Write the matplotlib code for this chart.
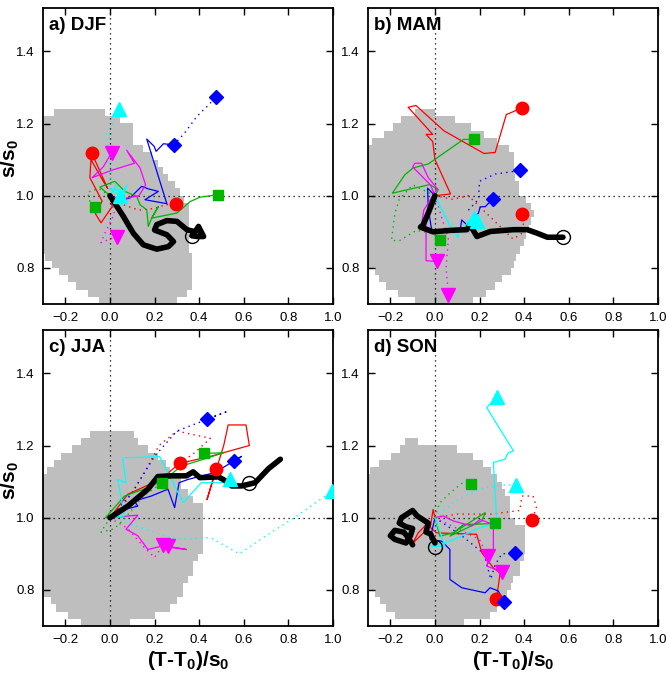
import numpy as np
import matplotlib.pyplot as plt

plt.rcParams['font.family'] = ['Liberation Sans', 'DejaVu Sans']
plt.rcParams['mathtext.fontset'] = 'custom'
plt.rcParams['mathtext.rm'] = 'Liberation Sans'
plt.rcParams['mathtext.bf'] = 'Liberation Sans:bold'

seasons = ['a) DJF', 'b) MAM', 'c) JJA', 'd) SON']
xticks = [-0.2, 0.0, 0.2, 0.4, 0.6, 0.8, 1.0]
yticks = [0.8, 1.0, 1.2, 1.4]

# grey area, one row per s/s0 level: left and right edge
blob_y = [0.71, 0.73, 0.75, 0.77, 0.79, 0.81, 0.83, 0.85, 0.87, 0.89, 0.91, 0.93, 0.95, 0.97,
          0.99, 1.01, 1.03, 1.05, 1.07, 1.09, 1.11, 1.13, 1.15, 1.17, 1.19, 1.21, 1.23]
djf_left = [-0.05, -0.10, -0.15, -0.19, -0.23, -0.26, -0.29] + [-0.31] * 19 + [-0.25]
djf_right = [0.30, 0.345, 0.37, 0.37, 0.37, 0.37, 0.37, 0.355, 0.355, 0.355, 0.355, 0.355, 0.355, 0.355,
             0.332, 0.314, 0.29, 0.262, 0.24, 0.217, 0.19, 0.15, 0.105, 0.105, 0.105, 0.045, -0.022]
mam_left = [-0.09, -0.165, -0.22, -0.25, -0.27] + [-0.31] * 17 + [-0.28, -0.23, -0.19, -0.15, -0.09]
mam_right = [0.17, 0.23, 0.27, 0.30, 0.34, 0.353, 0.365, 0.38, 0.398, 0.41, 0.42, 0.43, 0.444, 0.43,
             0.406, 0.376, 0.376, 0.36, 0.353, 0.353, 0.353, 0.331, 0.28, 0.22, 0.16, 0.09, 0.0]
jja_left = [-0.13, -0.19, -0.24, -0.266] + [-0.31] * 17 + [-0.28, -0.25, -0.22, -0.168, -0.13, -0.089]
jja_right = [0.09, 0.20, 0.27, 0.30, 0.328, 0.328, 0.35, 0.373, 0.373, 0.395, 0.418, 0.418, 0.418, 0.418,
             0.418, 0.418, 0.418, 0.373, 0.35, 0.32, 0.32, 0.27, 0.25, 0.215, 0.17, 0.125, 0.107]
son_left = [0.0, -0.18, -0.22, -0.247, -0.27] + [-0.31] * 16 + [-0.29, -0.25, -0.195, -0.157, -0.135, 0.0]
son_right = [0.13, 0.247, 0.28, 0.322, 0.322, 0.34, 0.352, 0.382, 0.382, 0.40, 0.404, 0.404, 0.404, 0.404,
             0.36, 0.337, 0.337, 0.337, 0.314, 0.30, 0.277, 0.25, 0.217, 0.17, 0.10, -0.075, 0.0]

# DJF trajectories (x, y)
djf_red = [(0, 1), (0.01, 0.97), (-0.04, 0.925), (-0.065, 0.95), (-0.035, 0.985), (-0.09, 1.05),
           (-0.085, 1.1), (-0.03, 1.04), (-0.01, 1.02), (-0.082, 1.119)]
djf_red_dot = [(0, 1), (0.06, 0.975), (0.13, 0.96), (0.2, 0.965), (0.25, 0.975), (0.297, 0.978)]
djf_blue = [(0, 1), (0.03, 0.984), (0.09, 0.994), (0.142, 1.026), (0.172, 1.019), (0.217, 1.012),
            (0.157, 0.989), (0.255, 0.978), (0.165, 1.157), (0.198, 1.137), (0.207, 1.123),
            (0.24, 1.144), (0.285, 1.141)]
djf_blue_dot = [(0.285, 1.141), (0.33, 1.17), (0.39, 1.22), (0.44, 1.25), (0.476, 1.274)]
djf_green = [(0, 1), (-0.045, 1.024), (0.022, 1.04), (0.067, 1.012), (0.12, 0.998), (0.135, 0.975),
             (0.165, 0.961), (0.172, 0.915), (0.187, 0.938), (0.217, 0.97), (0.187, 0.938),
             (0.30, 0.952), (0.36, 0.984), (0.404, 0.996), (0.484, 1.003)]
djf_green_dot = [(0, 1), (-0.05, 1.02), (-0.1, 1.01), (-0.09, 0.985), (-0.067, 0.969)]
djf_magenta = [(0, 1), (0.045, 0.99), (0.13, 1.0), (0.16, 1.03), (0.135, 1.077), (0.075, 1.126),
               (0.11, 1.09), (0.015, 1.072), (-0.08, 1.05), (-0.03, 1.08), (0.0075, 1.119)]
djf_magenta_dot = [(0, 1), (0.02, 0.95), (-0.02, 0.90), (-0.04, 0.87), (0.0, 0.88), (0.033, 0.887)]
djf_cyan = [(0, 1), (0.03, 1.03), (0.05, 0.975), (0.075, 1.03), (0.02, 0.97), (0.06, 1.01),
            (0.0, 1.02), (0.045, 1.0)]
djf_cyan_dot = [(0, 1), (0.0, 1.08), (-0.015, 1.17), (0.02, 1.21), (0.042, 1.239)]
djf_black = [(0.0, 1.0), (0.06, 0.943), (0.105, 0.896), (0.15, 0.864), (0.21, 0.852), (0.262, 0.859),
             (0.285, 0.873), (0.255, 0.892), (0.20, 0.905), (0.21, 0.92), (0.255, 0.931), (0.30, 0.929),
             (0.345, 0.906), (0.382, 0.90), (0.397, 0.915), (0.42, 0.887), (0.39, 0.887), (0.367, 0.889)]
djf_circle = (0.367, 0.889)

# MAM trajectories
mam_red = [(0, 1), (0.07, 1.005), (0.0, 1.10), (-0.01, 1.15), (-0.04, 1.17), (-0.01, 1.17),
           (-0.12, 1.245), (-0.085, 1.25), (0.04, 1.18), (0.22, 1.117), (0.27, 1.12), (0.32, 1.225),
           (0.34, 1.23), (0.391, 1.244)]
mam_red_dot = [(0, 1), (0.08, 0.99), (0.15, 1.0), (0.25, 0.94), (0.35, 0.88), (0.40, 0.90), (0.391, 0.95)]
mam_blue = [(0, 1), (-0.033, 1.021), (-0.03, 0.966), (-0.015, 0.906), (0.113, 0.904), (0.12, 0.933),
            (0.15, 0.915), (0.195, 0.952), (0.203, 0.969), (0.226, 0.97), (0.259, 0.991)]
mam_blue_dot = [(0.15, 0.96), (0.195, 0.99), (0.2, 1.04), (0.27, 1.06), (0.383, 1.07)]
mam_green = [(0, 1), (0.015, 1.017), (-0.023, 1.031), (-0.191, 1.007), (-0.135, 1.058), (-0.098, 1.077),
             (-0.03, 1.088), (0.128, 1.156), (0.176, 1.156)]
mam_green_dot = [(0, 1), (-0.1, 1.03), (-0.16, 0.99), (-0.18, 0.95), (-0.195, 0.876), (-0.158, 0.876),
                 (-0.083, 0.904), (-0.008, 0.895), (0.023, 0.876)]
mam_magenta = [(0, 1), (-0.02, 1.03), (-0.10, 1.08), (-0.09, 1.09), (-0.06, 1.09), (-0.03, 1.05),
               (0.01, 1.02), (-0.05, 0.96), (-0.06, 0.92), (-0.04, 0.92), (-0.04, 0.82), (0.011, 0.818)]
mam_magenta_dot = [(0, 1), (0.03, 0.94), (0.06, 0.88), (0.05, 0.80), (0.06, 0.725)]
mam_cyan = [(0, 1), (0.04, 0.95), (0.08, 0.90), (0.105, 0.885), (0.1, 0.905), (0.13, 0.91),
            (0.15, 0.93), (0.173, 0.938)]
mam_cyan_dot = [(0, 1), (0.06, 0.93), (0.12, 0.9), (0.19, 0.93)]
mam_black = [(0.0, 1.0), (-0.03, 0.952), (-0.053, 0.919), (-0.065, 0.913), (-0.008, 0.90), (0.068, 0.904),
             (0.143, 0.906), (0.158, 0.919), (0.188, 0.887), (0.248, 0.901), (0.353, 0.906),
             (0.414, 0.906), (0.459, 0.896), (0.504, 0.885), (0.574, 0.885)]
mam_circle = (0.574, 0.885)

# JJA trajectories
jja_red = [(0, 1), (0.08, 1.065), (0.23, 1.107), (0.31, 1.15), (0.45, 1.17), (0.625, 1.20),
           (0.61, 1.257), (0.53, 1.257), (0.51, 1.20), (0.435, 1.05), (0.475, 1.134)]
jja_red_dot = [(0, 1), (0.08, 1.05), (0.15, 1.12), (0.22, 1.2), (0.3, 1.24), (0.45, 1.22),
               (0.38, 1.18), (0.316, 1.152)]
jja_blue = [(0, 1), (0.065, 1.023), (0.125, 1.032), (0.11, 1.046), (0.185, 1.06), (0.26, 1.079),
            (0.29, 1.028), (0.31, 1.097), (0.35, 1.106), (0.47, 1.125), (0.59, 1.17), (0.556, 1.157)]
jja_blue_dot = [(0, 1), (0.1, 1.07), (0.2, 1.17), (0.3, 1.24), (0.53, 1.295), (0.433, 1.274)]
jja_green = [(0, 1), (-0.02, 1.0), (0.065, 1.06), (0.17, 1.083), (0.245, 1.106), (0.32, 1.143),
             (0.42, 1.162), (0.51, 1.18), (0.421, 1.178)]
jja_green_dot = [(0, 1), (-0.04, 0.96), (0.02, 0.97), (0.07, 1.0), (0.15, 1.06), (0.235, 1.097)]
jja_magenta = [(0, 1), (0.125, 1.007), (0.072, 0.968), (0.125, 0.95), (0.17, 0.912), (0.23, 0.921),
               (0.343, 0.912), (0.26, 0.921)]
jja_magenta_dot = [(0, 1), (0.08, 0.97), (0.15, 0.92), (0.2, 0.89), (0.24, 0.925)]
jja_cyan = [(0, 1), (0.065, 1.005), (0.035, 1.106), (0.072, 1.097), (0.057, 1.166), (0.223, 1.169),
            (0.275, 1.106), (0.328, 1.042), (0.41, 1.097), (0.5, 1.097), (0.538, 1.106)]
jja_cyan_dot = [(0, 1), (0.15, 0.97), (0.3, 0.94), (0.45, 0.945), (0.58, 0.90), (0.7, 0.95),
                (0.85, 1.01), (0.997, 1.074)]
jja_black = [(0, 1), (0.08, 1.032), (0.17, 1.079), (0.215, 1.114), (0.275, 1.116), (0.343, 1.116),
             (0.373, 1.127), (0.403, 1.111), (0.486, 1.113), (0.508, 1.106), (0.546, 1.088),
             (0.591, 1.088), (0.651, 1.097), (0.711, 1.136), (0.764, 1.162)]
jja_circle = (0.624, 1.097)

# SON trajectories
son_red = [(0, 1), (-0.008, 1.023), (-0.02, 0.977), (-0.1, 0.929), (-0.075, 0.958), (-0.037, 0.982),
           (0.007, 0.958), (0.187, 0.954), (0.21, 0.903), (0.262, 0.861), (0.292, 0.847), (0.284, 0.81),
           (0.274, 0.775)]
son_red_dot = [(0, 1), (0.1, 1.01), (0.25, 1.01), (0.38, 1.02), (0.39, 1.06), (0.44, 1.06),
               (0.455, 1.03), (0.437, 0.994)]
son_blue = [(0, 1), (-0.022, 0.94), (0.03, 0.935), (0.067, 0.912), (0.067, 0.829), (0.12, 0.806),
            (0.225, 0.792), (0.247, 0.806), (0.284, 0.797), (0.311, 0.766)]
son_blue_dot = [(0, 1), (0.12, 0.95), (0.22, 0.9), (0.25, 0.83), (0.27, 0.87), (0.3, 0.9), (0.359, 0.901)]
son_green = [(0, 1), (0.022, 0.949), (0.082, 0.958), (0.225, 1.014), (0.21, 0.991), (0.067, 0.949),
             (0.127, 0.981), (0.268, 0.984)]
son_green_dot = [(0, 1), (0.02, 1.04), (0.07, 1.07), (0.12, 1.095), (0.162, 1.092)]
son_magenta = [(0, 1), (0.037, 1.005), (0.082, 0.991), (0.165, 0.977), (0.202, 0.995), (0.262, 0.981),
               (0.262, 0.912), (0.24, 0.884), (0.232, 0.866), (0.3, 0.85)]
son_magenta_dot = [(0, 1), (0.1, 0.97), (0.2, 0.94), (0.23, 0.9), (0.24, 0.894)]
son_cyan = [(0, 1), (0.045, 0.921), (-0.022, 0.921), (0.067, 0.935), (0.2, 0.972), (0.277, 0.986),
            (0.262, 1.153), (0.314, 1.162), (0.329, 1.18), (0.352, 1.185), (0.232, 1.305), (0.277, 1.335)]
son_cyan_dot = [(0, 1), (0.1, 1.05), (0.2, 1.08), (0.29, 1.09), (0.364, 1.091)]
son_black = [(0.0, 0.93), (-0.02, 0.955), (-0.04, 0.96), (-0.03, 0.985), (-0.08, 1.005), (-0.1, 1.02),
             (-0.15, 1.0), (-0.16, 0.985), (-0.13, 0.975), (-0.1, 0.97), (-0.11, 0.95), (-0.13, 0.93),
             (-0.18, 0.94), (-0.2, 0.95), (-0.18, 0.965), (-0.14, 0.96), (-0.12, 0.945), (-0.1, 0.925)]
son_circle = (0.0, 0.919)

# colour and end marker of each family of curves
styles = {'red': ('#ff0000', 'o', 9), 'blue': ('#0000ff', 'D', 7), 'green': ('#00b400', 's', 7.5),
          'magenta': ('#ff00ff', 'v', 10), 'cyan': ('#00ffff', '^', 10)}

panels = [
    (djf_left, djf_right, {'red': (djf_red, djf_red_dot), 'blue': (djf_blue, djf_blue_dot),
                           'green': (djf_green, djf_green_dot), 'magenta': (djf_magenta, djf_magenta_dot),
                           'cyan': (djf_cyan, djf_cyan_dot)}, djf_black, djf_circle),
    (mam_left, mam_right, {'red': (mam_red, mam_red_dot), 'blue': (mam_blue, mam_blue_dot),
                           'green': (mam_green, mam_green_dot), 'magenta': (mam_magenta, mam_magenta_dot),
                           'cyan': (mam_cyan, mam_cyan_dot)}, mam_black, mam_circle),
    (jja_left, jja_right, {'red': (jja_red, jja_red_dot), 'blue': (jja_blue, jja_blue_dot),
                           'green': (jja_green, jja_green_dot), 'magenta': (jja_magenta, jja_magenta_dot),
                           'cyan': (jja_cyan, jja_cyan_dot)}, jja_black, jja_circle),
    (son_left, son_right, {'red': (son_red, son_red_dot), 'blue': (son_blue, son_blue_dot),
                           'green': (son_green, son_green_dot), 'magenta': (son_magenta, son_magenta_dot),
                           'cyan': (son_cyan, son_cyan_dot)}, son_black, son_circle),
]

fig = plt.figure(figsize=(6.66, 6.75), dpi=100)
positions = [[0.0646, 0.5496, 0.4354, 0.4385], [0.5526, 0.5496, 0.4354, 0.4385],
             [0.0646, 0.0726, 0.4354, 0.4385], [0.5526, 0.0726, 0.4354, 0.4385]]

for i, (left, right, curves, black, circle) in enumerate(panels):
    ax = fig.add_axes(positions[i])
    left = np.array(left)
    right = np.array(right)
    ax.barh(blob_y, right - left, left=left, height=0.0205, color='#bebebe',
            linewidth=0, antialiased=False, zorder=1)
    ax.axhline(1.0, color='k', ls=(0, (1, 3)), lw=0.9, zorder=2)
    ax.axvline(0.0, color='k', ls=(0, (1, 3)), lw=0.9, zorder=2)

    for name, (solid, dotted) in curves.items():
        col, mk, ms = styles[name]
        dx, dy = np.array(dotted).T
        ax.plot(dx, dy, color=col, ls=(0, (1, 3)), lw=1.0, zorder=3)
        ax.plot(dx[-1], dy[-1], marker=mk, color=col, ms=ms, mec=col, ls='none', zorder=6)
    for name, (solid, dotted) in curves.items():
        col, mk, ms = styles[name]
        sx, sy = np.array(solid).T
        ax.plot(sx, sy, color=col, lw=0.9, zorder=4)
        ax.plot(sx[-1], sy[-1], marker=mk, color=col, ms=ms, mec=col, ls='none', zorder=6)

    bx, by = np.array(black).T
    ax.plot(bx, by, color='k', lw=4.0, solid_capstyle='round', solid_joinstyle='round', zorder=5)
    ax.plot(circle[0], circle[1], marker='o', mfc='none', mec='k', mew=1.0, ms=10, zorder=7)

    ax.set_xlim(-0.3, 1.0)
    ax.set_ylim(0.7, 1.52)
    ax.set_xticks(xticks)
    ax.set_yticks(yticks)
    ax.set_xticklabels(['\u22120.2', '0.0', '0.2', '0.4', '0.6', '0.8', '1.0'])
    ax.set_yticklabels(['0.8', '1.0', '1.2', '1.4'])
    ax.tick_params(direction='in', top=True, right=True, length=5, width=1.0,
                   labelsize=9.5, pad=6)
    for sp in ax.spines.values():
        sp.set_linewidth(1.3)
    ax.text(0.02, 0.97, seasons[i], transform=ax.transAxes, va='top', ha='left',
            fontsize=13.5, fontweight='bold', zorder=8)
    if i in (0, 2):
        ax.set_ylabel(r'$\mathbf{s/s_0}$', fontsize=15)
        ax.yaxis.set_label_coords(-0.075, 0.49)
    if i in (2, 3):
        ax.set_xlabel(r'(T-T$_\mathbf{0}$)/s$_\mathbf{0}$', fontsize=15, fontweight='bold', labelpad=2)

fig.savefig('out.png', dpi=100)
